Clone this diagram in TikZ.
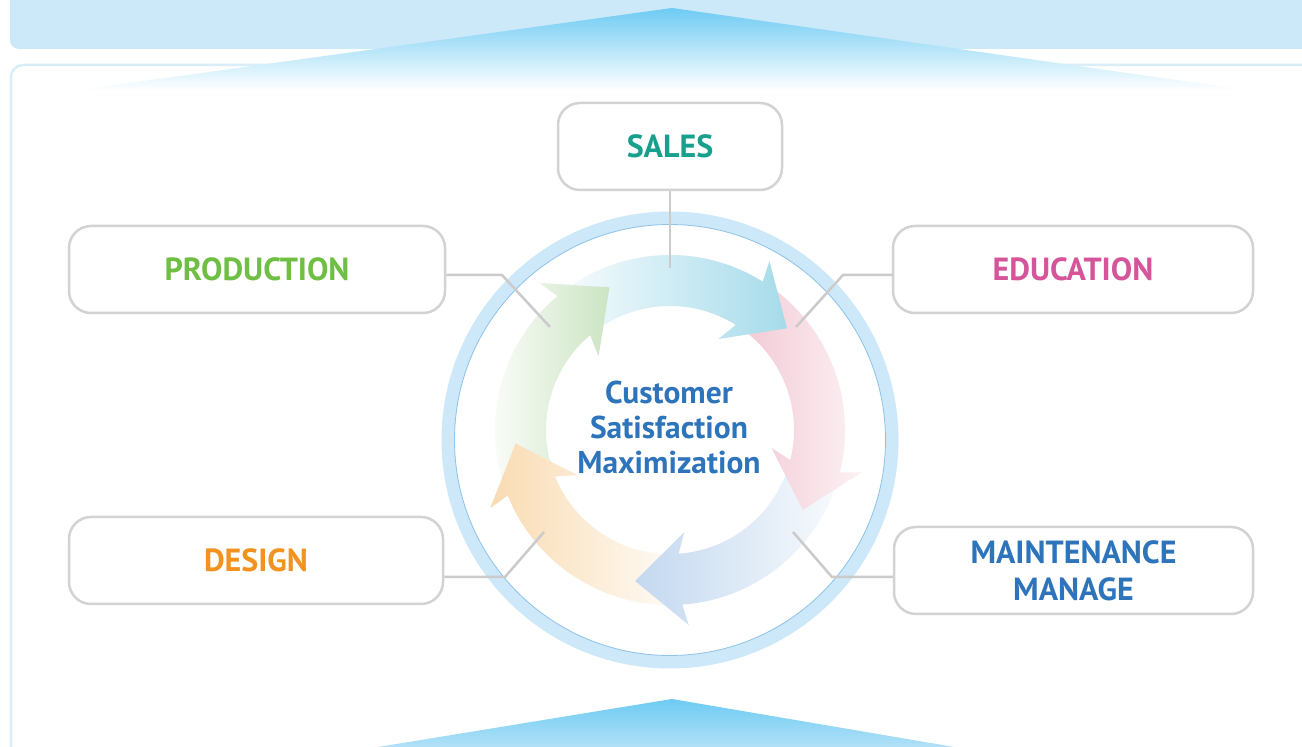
\documentclass[tikz,border=0pt]{standalone}
\usepackage{fontspec}
\setmainfont{PT Sans}
\usetikzlibrary{calc}

\definecolor{bannerblue}{HTML}{CCE9F9}
\definecolor{peakblue}{HTML}{6ECBF3}
\definecolor{peaklow}{HTML}{B2E1F7}
\definecolor{frameblue}{HTML}{D9EEF9}
\definecolor{ringblue}{HTML}{CDE8F8}
\definecolor{ringline}{HTML}{8EC3EA}
\definecolor{boxgray}{HTML}{D3D3D3}
\definecolor{linkgray}{HTML}{CBCBCB}
\definecolor{salesteal}{HTML}{17A08E}
\definecolor{prodgreen}{HTML}{6FBF44}
\definecolor{edupink}{HTML}{D5559B}
\definecolor{designorange}{HTML}{F29321}
\definecolor{maintblue}{HTML}{2E74BA}
\definecolor{cyanarrow}{HTML}{A6DBEA}
\definecolor{pinkarrow}{HTML}{F2C8D3}
\definecolor{bluearrow}{HTML}{C3D8EF}
\definecolor{orangearrow}{HTML}{F9DBB2}
\definecolor{greenarrow}{HTML}{CCE4C3}

% tail angle, head base angle, shading
\newcommand{\cyclearrow}[3]{%
    \shade[#3] (#1:175) arc[start angle=#1, end angle=#2, radius=175]
        -- ({#2+1.5}:196) -- ({#2-17}:155) -- ({#2+4}:103) -- (#2:124)
        arc[start angle=#2, end angle=#1, radius=124] -- cycle;}
% head only, for the arrow that closes the loop
\newcommand{\headclip}[1]{%
    \clip ({#1+1.5}:197) -- ({#1-17.5}:155) -- ({#1+4}:102) -- ({#1+0.2}:124) -- ({#1+0.2}:175) -- cycle;}

\begin{document}
\begin{tikzpicture}[
        x=1pt, y=1pt,
        line join=round
    ]
    \tikzstyle{task}=[draw=boxgray, line width=2.5pt, rounded corners=22pt, fill=white, minimum height=87pt, align=center, font=\fontsize{32}{37}\selectfont\bfseries]
    \tikzstyle{link}=[draw=linkgray, line width=2.5pt]
    \tikzstyle{greenfill}=[left color=white, middle color=greenarrow, right color=greenarrow]

    \useasboundingbox (0,0) rectangle (1302,747);
    \clip (0,0) rectangle (1302,747);
    \fill[white] (0,0) rectangle (1302,747);

    % frame
    \fill[bannerblue, rounded corners=9pt] (10,698) rectangle (1330,770);
    \draw[frameblue, line width=2.5pt, rounded corners=12pt] (11,682) rectangle (1330,-30);
    \shade[top color=peakblue, bottom color=white] (672,739) -- (1246,657) -- (79,657) -- cycle;
    \shade[top color=peakblue, bottom color=peaklow] (672,48) -- (960,-1) -- (372,-1) -- cycle;

    % ring
    \draw[ringblue, line width=13pt] (670,307) circle[radius=222];
    \draw[ringline, line width=0.8pt] (670,307) circle[radius=215.5];

    % cycle
    \begin{scope}[shift={(670,317)}]
        \cyclearrow{-158}{-230}{greenfill}
        \cyclearrow{-86}{-158}{left color=orangearrow, right color=orangearrow!8}
        \cyclearrow{-14}{-86}{left color=bluearrow, right color=bluearrow!12}
        \cyclearrow{58}{-14}{left color=pinkarrow, right color=pinkarrow!25}
        \cyclearrow{130}{58}{left color=cyanarrow!8, right color=cyanarrow}
        \begin{scope}
            \headclip{-230}
            \cyclearrow{-158}{-230}{greenfill}
        \end{scope}
    \end{scope}

    \node[align=center, text=maintblue, font=\fontsize{31.5}{35}\selectfont\bfseries] (goal) at (669,319.5) {Customer\\Satisfaction\\Maximization};

    \node[task, minimum width=224pt, text=salesteal] (sales) at (670,600.5) {SALES};
    \node[task, minimum width=376pt, text=prodgreen] (prod) at (257,477.5) {PRODUCTION};
    \node[task, minimum width=360pt, text=edupink] (edu) at (1073,477.5) {EDUCATION};
    \node[task, minimum width=374pt, text=designorange] (design) at (256,186.5) {DESIGN};
    \node[task, minimum width=359pt, text=maintblue] (maint) at (1073.5,176.5) {MAINTENANCE\\MANAGE};

    \coordinate (salesend) at (670,479);
    \coordinate (prodbend) at (502,472);
    \coordinate (prodend) at (550,420);
    \coordinate (edubend) at (843,472);
    \coordinate (eduend) at (796,420);
    \coordinate (designbend) at (505,170);
    \coordinate (designend) at (544,215);
    \coordinate (maintbend) at (832,170);
    \coordinate (maintend) at (793,215);

    \draw[link] (sales.south) -- (salesend);
    \draw[link] (prod.east |- prodbend) -- (prodbend) -- (prodend);
    \draw[link] (edu.west |- edubend) -- (edubend) -- (eduend);
    \draw[link] (design.east |- designbend) -- (designbend) -- (designend);
    \draw[link] (maint.west |- maintbend) -- (maintbend) -- (maintend);
\end{tikzpicture}
\end{document}
